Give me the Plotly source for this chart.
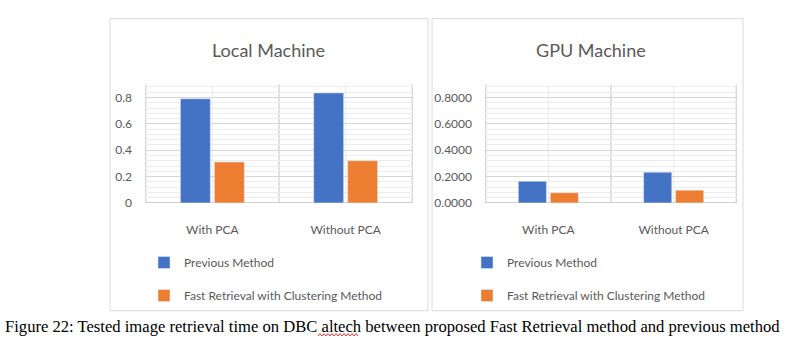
import plotly.graph_objects as go

categories = ["With PCA", "Without PCA"]
series_names = ["Previous Method", "Fast Retrieval with Clustering Method"]
local_previous = [0.79, 0.835]
local_fast = [0.31, 0.32]
gpu_previous = [0.164, 0.233]
gpu_fast = [0.077, 0.097]
panel_titles = ["Local Machine", "GPU Machine"]
caption = "Figure 22: Tested image retrieval time on DBC altech between proposed Fast Retrieval method and previous method"

W, H = 786, 356
BLUE = "#4472C4"
ORANGE = "#ED7D31"
TXT = "#595959"
FONT = "Lato, sans-serif"

def px(x):
    return x / W

def py(y):
    return 1 - y / H

fig = go.Figure()

fig.add_trace(go.Bar(x=categories, y=local_previous, name=series_names[0], marker_color=BLUE,
                     xaxis="x", yaxis="y", legend="legend", legendgroup="a"))
fig.add_trace(go.Bar(x=categories, y=local_fast, name=series_names[1], marker_color=ORANGE,
                     xaxis="x", yaxis="y", legend="legend", legendgroup="b"))
fig.add_trace(go.Bar(x=categories, y=gpu_previous, name=series_names[0], marker_color=BLUE,
                     xaxis="x2", yaxis="y2", legend="legend2", legendgroup="c"))
fig.add_trace(go.Bar(x=categories, y=gpu_fast, name=series_names[1], marker_color=ORANGE,
                     xaxis="x2", yaxis="y2", legend="legend2", legendgroup="d"))

ydom = [py(207), py(86)]
xcommon = dict(type="category", showgrid=False, zeroline=False, showline=False,
               tickfont=dict(family=FONT, size=12, color=TXT), ticks="", ticklabelstandoff=18,
               fixedrange=True)
ycommon = dict(range=[0, 0.9], dtick=0.2, tick0=0, showgrid=True, gridcolor="#d6d6d6", gridwidth=1.4,
               zeroline=True, zerolinecolor="#d0d0d0", zerolinewidth=1.4, showline=False,
               minor=dict(dtick=0.04, tick0=0, showgrid=True, gridcolor="#ececec", gridwidth=1),
               tickfont=dict(family=FONT, size=12, color=TXT), ticklabelstandoff=12, fixedrange=True)

legcommon = dict(orientation="v", font=dict(family=FONT, size=12, color=TXT), bgcolor="rgba(0,0,0,0)",
                 traceorder="grouped", tracegroupgap=14, xanchor="left", yanchor="top",
                 itemclick=False, itemdoubleclick=False)

fig.update_layout(
    width=W, height=H, margin=dict(l=0, r=0, t=0, b=0),
    paper_bgcolor="white", plot_bgcolor="white",
    barmode="group", bargap=0.49, bargroupgap=0.12,
    xaxis=dict(domain=[px(145), px(413)], anchor="y", **xcommon),
    yaxis=dict(domain=ydom, anchor="x", **ycommon),
    xaxis2=dict(domain=[px(485), px(737)], anchor="y2", **xcommon),
    yaxis2=dict(domain=ydom, anchor="x2", tickformat=".4f", **ycommon),
    legend=dict(x=px(144), y=py(253), **legcommon),
    legend2=dict(x=px(467), y=py(253), **legcommon),
    showlegend=True,
)

shapes = []
# panel borders
for x0, x1 in [(110, 428), (432, 743)]:
    shapes.append(dict(type="rect", xref="paper", yref="paper", x0=px(x0), x1=px(x1), y0=py(317), y1=py(19),
                       line=dict(color="#d9d9d9", width=1), layer="below"))
# vertical gridlines
for xr, yr in [("x", "y"), ("x2", "y2")]:
    for xv in [-0.5, 0.5, 1.5]:
        shapes.append(dict(type="line", xref=xr, yref=yr, x0=xv, x1=xv, y0=0, y1=0.9,
                           line=dict(color="#d6d6d6", width=1.4), layer="below"))
    for xv in [0, 1]:
        shapes.append(dict(type="line", xref=xr, yref=yr, x0=xv, x1=xv, y0=0, y1=0.9,
                           line=dict(color="#eeeeee", width=1.3), layer="below"))

# spell-check squiggle under "altech"
sx0, sx1, sy = 318, 359, 341.5
pts = []
x = sx0
k = 0
while x <= sx1:
    yy = sy + (1.2 if k % 2 == 0 else -1.2)
    pts.append((px(x), py(yy)))
    x += 2
    k += 1
path = "M " + " L ".join(f"{a:.5f},{b:.5f}" for a, b in pts)
shapes.append(dict(type="path", xref="paper", yref="paper", path=path, line=dict(color="#e03030", width=1)))

fig.update_layout(shapes=shapes)

annotations = [
    dict(text=panel_titles[0], xref="paper", yref="paper", x=px(268), y=py(51), showarrow=False,
         font=dict(family=FONT, size=18, color=TXT), xanchor="center", yanchor="middle"),
    dict(text=panel_titles[1], xref="paper", yref="paper", x=px(591), y=py(51), showarrow=False,
         font=dict(family=FONT, size=18, color=TXT), xanchor="center", yanchor="middle"),
    dict(text=caption, xref="paper", yref="paper", x=px(3), y=py(333), showarrow=False,
         font=dict(family="Liberation Serif, Times New Roman, serif", size=16.6, color="black"),
         xanchor="left", yanchor="middle"),
]
fig.update_layout(annotations=annotations)

fig.write_html("out.html", config={"displayModeBar": False},
               post_script="document.body.style.margin='0';document.body.style.padding='0';")
